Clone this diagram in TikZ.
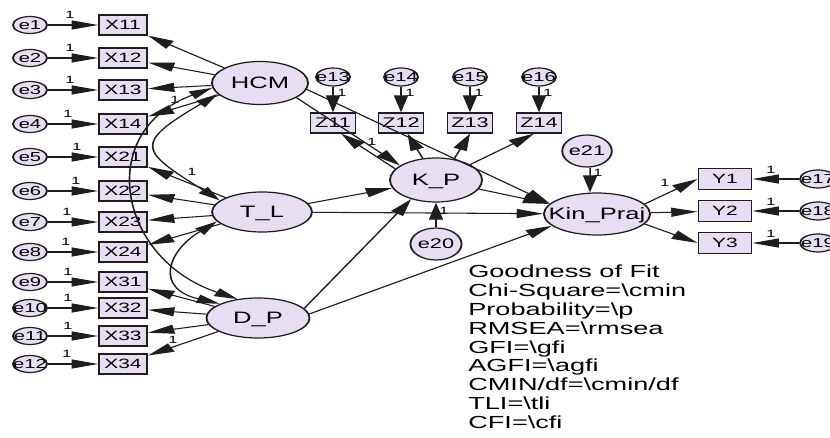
\documentclass[tikz,border=0pt]{standalone}
\usepackage{fontspec}
\setmainfont{Liberation Sans}
\usetikzlibrary{shapes.geometric,arrows.meta}
\definecolor{shfill}{RGB}{231,223,241}
\definecolor{ink}{RGB}{30,30,30}
\newcommand\zb[1]{\makebox[0pt]{#1}}
\begin{document}
\begin{tikzpicture}[x=1pt,y=-1pt,
  conn/.style={draw=ink, line width=1.05pt, -{Triangle[length=17pt,width=9pt]}},
  cov/.style={draw=ink, line width=1.05pt, {Triangle[length=15pt,width=8.5pt]}-{Triangle[length=15pt,width=8.5pt]}},
  errs/.style={ellipse, draw=ink, line width=1.2pt, fill=shfill, inner sep=0pt,
    minimum width=22pt, minimum height=17pt, font=\fontsize{13}{15}\selectfont,
    text height=9.3pt, text depth=0pt},
  errb/.style={errs, minimum width=33pt, minimum height=32pt,
    font=\fontsize{14}{16}\selectfont, text height=10pt},
  lat/.style={ellipse, draw=ink, line width=1.2pt, fill=shfill, inner sep=0pt,
    font=\fontsize{16.5}{18}\selectfont, text height=11.8pt, text depth=0pt},
  obs/.style={rectangle, draw=ink, line width=1.2pt, fill=shfill, inner sep=0pt,
    minimum width=31pt, minimum height=20pt, font=\fontsize{13.5}{15}\selectfont,
    text height=9.6pt, text depth=0pt},
  lab/.style={inner sep=0pt, font=\fontsize{10.5}{11}\selectfont},
  fit/.style={inner sep=0pt, anchor=north west, align=left,
    font=\fontsize{17.5}{18.8}\selectfont}
]
\useasboundingbox (0,0) rectangle (830,438);
\fill[white] (0,0) rectangle (830,438);
\begin{scope}[transform canvas={xscale=1.55}, x=0.64516pt]
% indicators of HCM, T_L, D_P
\foreach \i/\n/\y/\lx in {1/11/25/70, 2/12/58/70, 3/13/90/70, 4/14/124/68,
   5/21/157/77, 6/22/191/76, 7/23/222/67, 8/24/252/66,
   9/31/282/68, 10/32/308/68, 11/33/336/68, 12/34/364/67}{
  \node[errs] (e\i) at (30,\y) {\zb{e\i}};
  \node[obs] (X\n) at (123,\y) {\zb{X\n}};
  \node[lab] (le\i) at (\lx,\y-10) {1};
}
\foreach \i/\n in {1/11,2/12,3/13,4/14,5/21,6/22,7/23,8/24,9/31,10/32,11/33,12/34}
  \draw[conn] (e\i) -- (X\n);
% latent variables
\node[lat, minimum width=62pt, minimum height=43pt] (HCM) at (260,83) {\zb{HCM}};
\node[lat, minimum width=64.5pt, minimum height=40pt] (TL) at (262,212) {\zb{T\_L}};
\node[lat, minimum width=66.5pt, minimum height=40pt] (DP) at (258,318) {\zb{D\_P}};
\node[lat, minimum width=59.4pt, minimum height=44pt] (KP) at (436,180) {\zb{K\_P}};
\node[lat, minimum width=68.4pt, minimum height=42pt] (KPr) at (597,214) {\zb{Kin\_Praj}};
\foreach \n in {11,12,13,14} \draw[conn] (HCM) -- (X\n);
\foreach \n in {21,22,23,24} \draw[conn] (TL) -- (X\n);
\foreach \n in {31,32,33,34} \draw[conn] (DP) -- (X\n);
\node[lab] (lh) at (175,100) {1};
\node[lab] (lt) at (192,172) {1};
\node[lab] (ld) at (173,340) {1};
% covariances
\draw[cov] (HCM.202.5) .. controls +(-85,50) and +(-80,-50) .. (TL.157.5);
\draw[cov] (HCM.189.3) .. controls +(-118,43) and +(-120,-40) .. (DP.125.6);
\draw[cov] (TL.198.2) .. controls +(-50,30) and +(-65,-15) .. (DP.150.6);
% K_P indicators
\foreach \i/\n/\x in {13/11/333, 14/12/401, 15/13/470, 16/14/539}{
  \node[obs, minimum width=29pt, font=\fontsize{14}{16}\selectfont, text height=10pt] (Z\n) at (\x,123) {\zb{Z\n}};
  \node[errs, minimum height=18pt] (e\i) at (\x,77) {\zb{e\i}};
  \node[lab] (le\i) at (\x+9,93) {1};
  \draw[conn] (e\i) -- (Z\n);
}
\draw[conn] (KP.157.5) -- ([xshift=5.2pt]Z11.south);
\draw[conn] (KP) -- (Z12);
\draw[conn] (KP.61) -- (Z13.south);
\draw[conn] (KP.35.9) -- ([xshift=-3.2pt]Z14.south);
\node[lab] (lz) at (372,142) {1};
% structural paths
\draw[conn] (HCM.-32) -- (KP.148);
\draw[conn] (HCM.-12.3) -- (KPr.161.8);
\draw[conn] (TL) -- (KP);
\draw[conn] (TL) -- (KPr);
\draw[conn] (DP.18.2) -- (KP.230.4);
\draw[conn] (DP.7.7) -- (KPr.202.5);
\draw[conn] (KP) -- (KPr);
% disturbances
\node[errb] (e20) at (436,244) {\zb{e20}};
\draw[conn] (e20) -- (KP);
\node[lab] (l20) at (444,211) {1};
\node[errb, minimum width=32pt] (e21) at (587,151) {\zb{e21}};
\draw[conn] ([xshift=2pt]e21.south) -- ([xshift=-4.5pt]KPr.north);
\node[lab] (l21) at (598,173) {1};
% Kin_Praj indicators
\foreach \i/\n/\y in {17/1/179, 18/2/211, 19/3/243}{
  \node[obs, minimum width=34.2pt, minimum height=21pt] (Y\n) at (725,\y) {\zb{Y\n}};
  \node[errs, minimum width=23.2pt, minimum height=18pt] (e\i) at (818,\y) {\zb{e\i}};
  \node[lab] (le\i) at (771,\y-9) {1};
  \draw[conn] (e\i) -- (Y\n);
}
\draw[conn] (KPr.18.2) -- (Y1.west);
\draw[conn] (KPr) -- (Y2);
\draw[conn] (KPr.-18.2) -- (Y3.west);
\node[lab] (ly) at (665,183) {1};
% fit text
\node[fit] (gof) at (468,265) {Goodness of Fit\\
Chi-Square=\textbackslash cmin\\
Probability=\textbackslash p\\
RMSEA=\textbackslash rmsea\\
GFI=\textbackslash gfi\\
AGFI=\textbackslash agfi\\
CMIN/df=\textbackslash cmin/df\\
TLI=\textbackslash tli\\
CFI=\textbackslash cfi};
\end{scope}
\end{tikzpicture}
\end{document}
